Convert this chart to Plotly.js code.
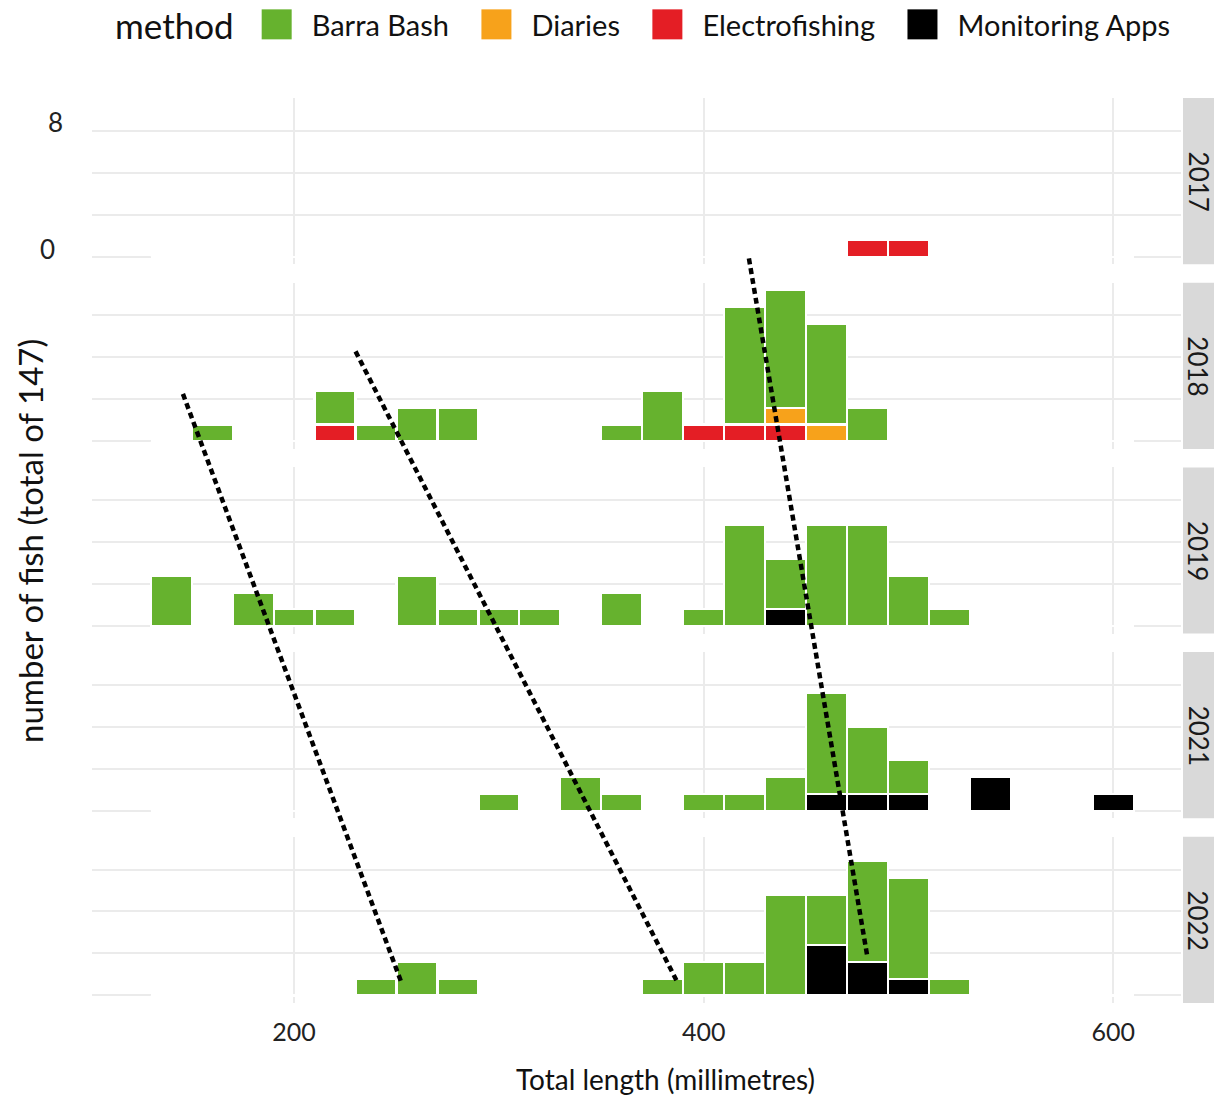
<!DOCTYPE html>
<html>
<head>
<meta charset="utf-8">
<script src="https://cdn.plot.ly/plotly-3.0.1.min.js"></script>
<style>
  html, body { margin: 0; padding: 0; background: #ffffff; }
  #chart { width: 1218px; height: 1097px; }
</style>
</head>
<body>
<div id="chart"></div>
<script>
// ---------------- data ----------------
const binCenters = [140,160,180,200,220,240,260,280,300,320,340,360,380,400,420,440,460,480,500,520,540,560,580,600];
const years = ['2017','2018','2019','2021','2022'];
const methodNames = ['Barra Bash','Diaries','Electrofishing','Monitoring Apps'];
const methodColors = ['#66B22E','#F7A21B','#E41E25','#000000'];

// counts per bin, one row per year (2017, 2018, 2019, 2021, 2022)
const barraBash = [
  [0,0,0,0,0,0,0,0,0,0,0,0,0,0,0,0,0,0,0,0,0,0,0,0],
  [0,1,0,0,2,1,2,2,0,0,0,1,3,0,7,7,6,2,0,0,0,0,0,0],
  [3,0,2,1,1,0,3,1,1,1,0,2,0,1,6,3,6,6,3,1,0,0,0,0],
  [0,0,0,0,0,0,0,0,1,0,2,1,0,1,1,2,6,4,2,0,0,0,0,0],
  [0,0,0,0,0,1,2,1,0,0,0,0,1,2,2,6,3,6,6,1,0,0,0,0]
];
const diaries = [
  [0,0,0,0,0,0,0,0,0,0,0,0,0,0,0,0,0,0,0,0,0,0,0,0],
  [0,0,0,0,0,0,0,0,0,0,0,0,0,0,0,1,1,0,0,0,0,0,0,0],
  [0,0,0,0,0,0,0,0,0,0,0,0,0,0,0,0,0,0,0,0,0,0,0,0],
  [0,0,0,0,0,0,0,0,0,0,0,0,0,0,0,0,0,0,0,0,0,0,0,0],
  [0,0,0,0,0,0,0,0,0,0,0,0,0,0,0,0,0,0,0,0,0,0,0,0]
];
const electrofishing = [
  [0,0,0,0,0,0,0,0,0,0,0,0,0,0,0,0,0,1,1,0,0,0,0,0],
  [0,0,0,0,1,0,0,0,0,0,0,0,0,1,1,1,0,0,0,0,0,0,0,0],
  [0,0,0,0,0,0,0,0,0,0,0,0,0,0,0,0,0,0,0,0,0,0,0,0],
  [0,0,0,0,0,0,0,0,0,0,0,0,0,0,0,0,0,0,0,0,0,0,0,0],
  [0,0,0,0,0,0,0,0,0,0,0,0,0,0,0,0,0,0,0,0,0,0,0,0]
];
const monitoringApps = [
  [0,0,0,0,0,0,0,0,0,0,0,0,0,0,0,0,0,0,0,0,0,0,0,0],
  [0,0,0,0,0,0,0,0,0,0,0,0,0,0,0,0,0,0,0,0,0,0,0,0],
  [0,0,0,0,0,0,0,0,0,0,0,0,0,0,0,1,0,0,0,0,0,0,0,0],
  [0,0,0,0,0,0,0,0,0,0,0,0,0,0,0,0,1,1,1,0,2,0,0,1],
  [0,0,0,0,0,0,0,0,0,0,0,0,0,0,0,0,3,2,1,0,0,0,0,0]
];

// dotted cohort lines (start/end: facet year, length in mm, height in counts)
const cohortStartYear   = ['2018','2018','2017'];
const cohortStartLength = [145.7, 230.0, 422.1];
const cohortStartCount  = [2.83, 5.36, -0.1];
const cohortEndYear     = ['2022','2022','2022'];
const cohortEndLength   = [252.2, 387.0, 479.9];
const cohortEndCount    = [0.83, 0.83, 2.33];

const xTickValues = [200, 400, 600];
const yGridValues = [0, 2.5, 5, 7.5];
const yTickLabels = ['0', '8'];
const yTickValues = [0, 7.5];

// ---------------- layout helpers ----------------
const W = 1218, H = 1097;
const mL = 92, mR = 37, mT = 98, mB = 94;
const plotW = W - mL - mR, plotH = H - mT - mB;
const pxX = p => (p - mL) / plotW;
const pxY = p => (H - mB - p) / plotH;

const panelUnits = 9.9, pitchUnits = 11;
const totalUnits = pitchUnits * (years.length - 1) + panelUnits;
const xRange = [101.3, 633.1];
const yRange = [-0.45, 9.45];
const binWidth = binCenters[1] - binCenters[0];
const FONT = 'Lato, "Open Sans", sans-serif';
const gridColor = '#ebebeb';
const NBSP = '\u00a0';

const countsByMethod = [barraBash, diaries, electrofishing, monitoringApps];
const stackOrder = [3, 2, 1, 0]; // bottom to top

const traces = [];
const layout = {
  width: W, height: H,
  margin: {l: mL, r: mR, t: mT, b: mB, autoexpand: false},
  paper_bgcolor: '#ffffff',
  plot_bgcolor: 'rgba(0,0,0,0)',
  barmode: 'stack',
  bargap: 0,
  font: {family: FONT, color: '#1a1a1a', size: 25},
  showlegend: true,
  legend: {
    orientation: 'h',
    x: pxX(113), xanchor: 'left',
    y: pxY(27), yanchor: 'middle',
    traceorder: 'normal',
    font: {family: FONT, size: 29, color: '#111'},
    title: {text: 'method', font: {family: FONT, size: 35, color: '#111'}, side: 'left'},
    itemwidth: 60,
    itemclick: false, itemdoubleclick: false,
    bgcolor: 'rgba(0,0,0,0)'
  },
  shapes: [],
  annotations: []
};

years.forEach((yr, i) => {
  const sfx = i === 0 ? '' : String(i + 1);
  const k = years.length - 1 - i;
  const dom = [k * pitchUnits / totalUnits, (k * pitchUnits + panelUnits) / totalUnits];
  layout['xaxis' + sfx] = {
    domain: [0, 1], anchor: 'y' + sfx, range: xRange,
    tickvals: xTickValues, showticklabels: i === years.length - 1,
    ticks: '', ticklabelstandoff: 12,
    tickfont: {family: FONT, size: 25, color: '#222'},
    showgrid: true, gridcolor: gridColor, gridwidth: 2,
    zeroline: false, showline: false, fixedrange: true,
    matches: i === 0 ? undefined : 'x'
  };
  layout['yaxis' + sfx] = {
    domain: dom, anchor: 'x' + sfx, range: yRange,
    tickvals: yGridValues, showticklabels: false, ticks: '',
    showgrid: true, gridcolor: gridColor, gridwidth: 2,
    zeroline: false, showline: false, fixedrange: true
  };
  stackOrder.forEach(m => {
    traces.push({
      type: 'bar',
      x: binCenters,
      y: countsByMethod[m][i],
      width: binWidth,
      name: methodNames[m] + (m < methodNames.length - 1 ? NBSP : ''),
      legendgroup: methodNames[m],
      legendrank: m + 1,
      showlegend: i === 0,
      marker: {color: methodColors[m], line: {color: '#ffffff', width: 2.2}},
      xaxis: 'x' + sfx, yaxis: 'y' + sfx,
      hoverinfo: 'skip'
    });
  });
  // white outline of the empty bins along the baseline
  layout.shapes.push({
    type: 'line', layer: 'between',
    xref: 'x' + sfx, yref: 'y' + sfx,
    x0: binCenters[0] - binWidth / 2, x1: binCenters[binCenters.length - 1] + binWidth / 2,
    y0: 0, y1: 0,
    line: {color: '#ffffff', width: 1}
  });
  // facet strip
  layout.shapes.push({
    type: 'rect', xref: 'paper', yref: 'paper',
    x0: pxX(1183), x1: pxX(1214), y0: dom[0], y1: dom[1],
    fillcolor: '#d9d9d9', line: {width: 0}, layer: 'below'
  });
  layout.annotations.push({
    xref: 'paper', yref: 'paper',
    x: (pxX(1183) + pxX(1214)) / 2, y: (dom[0] + dom[1]) / 2,
    text: yr, textangle: 90, showarrow: false,
    xanchor: 'center', yanchor: 'middle',
    font: {family: FONT, size: 26, color: '#1a1a1a'}
  });
});

// overlay axes for the cohort lines spanning all facets
layout.xaxis6 = {domain: [0, 1], anchor: 'y6', range: xRange, visible: false, fixedrange: true};
layout.yaxis6 = {domain: [0, 1], anchor: 'x6', range: [yRange[0], totalUnits + yRange[0]], visible: false, fixedrange: true};
const stackedY = (yr, c) => (years.length - 1 - years.indexOf(yr)) * pitchUnits + c;
cohortStartYear.forEach((yr, j) => {
  traces.push({
    type: 'scatter', mode: 'lines',
    x: [cohortStartLength[j], cohortEndLength[j]],
    y: [stackedY(yr, cohortStartCount[j]), stackedY(cohortEndYear[j], cohortEndCount[j])],
    xaxis: 'x6', yaxis: 'y6',
    line: {color: '#000000', width: 4.5, dash: '6px,4px'},
    showlegend: false, hoverinfo: 'skip'
  });
});

// y tick labels (only on the top facet)
layout.annotations.push({
  xref: 'paper', yref: 'y', x: pxX(55), y: yTickValues[1], yshift: 8.5,
  text: yTickLabels[1], showarrow: false, xanchor: 'center', yanchor: 'middle',
  font: {family: FONT, size: 26, color: '#222'}
});
layout.annotations.push({
  xref: 'paper', yref: 'y', x: pxX(47.5), y: yTickValues[0], yshift: 7.5,
  text: yTickLabels[0], showarrow: false, xanchor: 'center', yanchor: 'middle',
  font: {family: FONT, size: 26, color: '#222'}
});
// axis titles
layout.annotations.push({
  xref: 'paper', yref: 'paper', x: pxX(665), y: pxY(1079),
  text: 'Total length (millimetres)', showarrow: false,
  xanchor: 'center', yanchor: 'middle',
  font: {family: FONT, size: 28, color: '#111'}
});
layout.annotations.push({
  xref: 'paper', yref: 'paper', x: pxX(30), y: pxY(541),
  text: 'number of fish (total of 147)', showarrow: false, textangle: -90,
  xanchor: 'center', yanchor: 'middle',
  font: {family: FONT, size: 33, color: '#111'}
});

function tuneLegend(gd) {
  gd.querySelectorAll('.legend .legendpoints path').forEach(p => {
    const t = (p.getAttribute('transform') || '').replace(/\s*scale\([^)]*\)/g, '');
    p.setAttribute('transform', t + ' scale(2.5)');
    p.style.strokeWidth = '0';
  });
  const title = gd.querySelector('.legend .legendtitletext');
  if (title) title.setAttribute('transform', 'translate(0,-6)');
}

const gdEl = document.getElementById('chart');
Plotly.newPlot(gdEl, traces, layout, {staticPlot: true, displayModeBar: false}).then(gd => {
  tuneLegend(gd);
  gd.on('plotly_afterplot', () => tuneLegend(gd));
  setTimeout(() => tuneLegend(gd), 50);
  setTimeout(() => tuneLegend(gd), 300);
});
</script>
</body>
</html>
